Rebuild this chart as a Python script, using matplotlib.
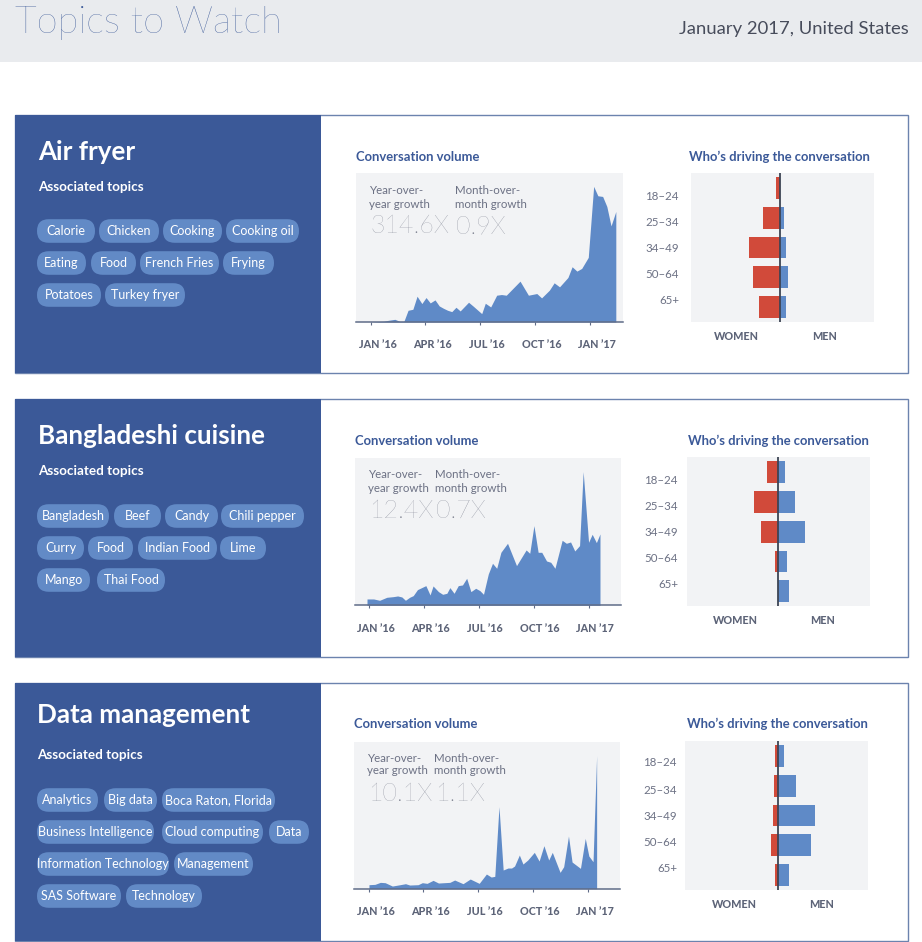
"""Topics to Watch: three topic cards with volume and age/gender charts."""

import matplotlib

matplotlib.use("Agg")
from matplotlib import pyplot as plt
from matplotlib.patches import FancyBboxPatch, Rectangle
from matplotlib.transforms import ScaledTranslation

NAVY = "#3B5998"
PILL = "#628AC6"
AREA = "#5F8AC7"
RED = "#D14A3A"
PANEL = "#F2F3F5"
HEADER = "#E9EBEE"
GREY = "#6C7184"
TICK_GREY = "#5D6478"
FONT = "Lato"

month_days = [0, 91, 182, 274, 366]
month_labels = ["JAN \u201916", "APR \u201916", "JUL \u201916", "OCT \u201916", "JAN \u201917"]
age_groups = ["18\u201324", "25\u201334", "34\u201349", "50\u201364", "65+"]

titles = ["Air fryer", "Bangladeshi cuisine", "Data management"]
yoy_growth = ["314.6X", "12.4X", "10.1X"]
mom_growth = ["0.9X", "0.7X", "1.1X"]

fryer_topics = [["Calorie", "Chicken", "Cooking", "Cooking oil"],
                ["Eating", "Food", "French Fries", "Frying"],
                ["Potatoes", "Turkey fryer"]]
bangla_topics = [["Bangladesh", "Beef", "Candy", "Chili pepper"],
                 ["Curry", "Food", "Indian Food", "Lime"],
                 ["Mango", "Thai Food"]]
data_topics = [["Analytics", "Big data", "Boca Raton, Florida"],
               ["Business Intelligence", "Cloud computing", "Data"],
               ["Information Technology", "Management"],
               ["SAS Software", "Technology"]]

fryer_days = [0, 7, 21, 29, 40, 48, 55, 62, 70, 77, 85, 92, 99, 107, 114, 121, 128, 135, 142, 149,
              163, 171, 185, 191, 200, 210, 218, 226, 249, 263, 277, 285, 298, 306, 315, 329, 336,
              344, 352, 363, 372, 379, 387, 394, 401, 409]
fryer_volume = [0, 1, 2, 5, 8, 2, 2, 35, 38, 77, 55, 73, 57, 66, 48, 41, 35, 31, 44, 33,
                59, 47, 25, 56, 45, 80, 82, 80, 122, 80, 85, 72, 95, 117, 105, 133, 165,
                152, 160, 193, 405, 377, 375, 345, 287, 330]

bangla_days = [-4, 7, 17, 29, 40, 47, 54, 60, 67, 73, 80, 87, 94, 101, 106, 115, 122, 129, 134, 141,
               148, 155, 162, 169, 177, 184, 190, 198, 205, 212, 219, 230, 245, 261, 267, 274, 281,
               287, 295, 302, 309, 321, 328, 335, 342, 350, 356, 365, 371, 378, 384]
bangla_volume = [19, 19, 15, 24, 26, 28, 25, 15, 24, 29, 47, 53, 59, 31, 58, 41, 33, 36, 53, 36,
                 59, 61, 81, 41, 51, 44, 33, 94, 126, 111, 159, 186, 119, 166, 156, 239, 159,
                 159, 133, 129, 111, 195, 186, 190, 163, 179, 401, 189, 213, 188, 214]

data_days = [0, 10, 19, 27, 39, 52, 61, 68, 82, 89, 97, 107, 116, 135, 143, 157, 169, 184, 196, 204,
             210, 217, 224, 232, 238, 243, 251, 257, 265, 276, 284, 292, 300, 306, 319, 325, 333,
             339, 353, 361, 367, 374, 380]
data_volume = [12, 13, 19, 18, 8, 12, 15, 11, 12, 18, 16, 25, 17, 19, 26, 15, 29, 16, 44, 35,
               37, 246, 56, 62, 62, 68, 101, 74, 86, 109, 83, 129, 86, 109, 49, 66, 158,
               80, 61, 151, 98, 81, 399]

fryer_women = [13, 52, 94, 82, 64]
fryer_men = [0, 10, 17, 23, 17]
bangla_women = [34, 73, 52, 10, 0]
bangla_men = [20, 50, 80, 26, 32]
data_women = [8, 11, 14, 20, 8]
data_men = [19, 55, 112, 100, 34]

# pill left/right edges in pixels, one row per line of topics
fryer_pills = [[(37, 95), (99, 159), (163, 222), (226, 299)],
               [(37, 86), (91, 136), (140, 219), (223, 274)],
               [(37, 101), (105, 185)]]
bangla_pills = [[(37, 109), (114, 161), (165, 218), (221, 304)],
                [(37, 84), (88, 133), (138, 217), (220, 266)],
                [(37, 90), (97, 165)]]
data_pills = [[(37, 98), (104, 157), (162, 275)],
              [(37, 154), (162, 263), (269, 309)],
              [(37, 169), (174, 253)],
              [(37, 121), (126, 202)]]

# per card layout, all in pixels of the final image
cards = [
    dict(top=115, title_x=38, title_y=152, assoc_y=187, pill_y=231, head_y=157, vol_head_x=356,
         vol_box=(356, 173, 623, 322), vol_xlim=(-25, 421), vol_ymax=445, tick_dx=6.6, tick_y=337,
         growth_x=(369, 455), growth_y=(190, 204, 226),
         who_cx=779.5, bar_box=(691, 173.3, 874, 321.7), bar_xlim=(-268, 281),
         age_x=679, age_y=(196, 222, 248, 275, 301), sex_y=337, sex_x=(736.7, 824.3),
         days=fryer_days, volume=fryer_volume, women=fryer_women, men=fryer_men,
         topics=fryer_topics, pills=fryer_pills),
    dict(top=399, title_x=38, title_y=436, assoc_y=471, pill_y=516, head_y=441, vol_head_x=355,
         vol_box=(355, 458.3, 621, 605.3), vol_xlim=(-24, 419), vol_ymax=441, tick_dx=6.2, tick_y=620.5,
         growth_x=(368, 435), growth_y=(475, 488, 511),
         who_cx=778, bar_box=(687, 457.3, 870, 606), bar_xlim=(-274, 275),
         age_x=678, age_y=(480, 507, 533, 559, 585), sex_y=621, sex_x=(735.7, 823),
         days=bangla_days, volume=bangla_volume, women=bangla_women, men=bangla_men,
         topics=bangla_topics, pills=bangla_pills),
    dict(top=683, title_x=37, title_y=715, assoc_y=755, pill_y=800, head_y=724, vol_head_x=354,
         vol_box=(354, 741.7, 620, 888.7), vol_xlim=(-25, 419), vol_ymax=441, tick_dx=6.6, tick_y=903.5,
         growth_x=(367, 434), growth_y=(758, 771, 794),
         who_cx=777, bar_box=(685, 741, 868, 890), bar_xlim=(-278, 271),
         age_x=677, age_y=(763, 790, 816, 842, 869), sex_y=904.5, sex_x=(734.7, 822),
         days=data_days, volume=data_volume, women=data_women, men=data_men,
         topics=data_topics, pills=data_pills),
]

WIDTH, HEIGHT = 922, 942
PILL_HEIGHT = 23.6
PILL_STEP = 32
CARD_HEIGHT = 258


def px(size):
    """Font size in points for a size in pixels at dpi 100."""
    return size * 0.72


def add_axes_px(fig, box):
    """Add axes from a (left, top, right, bottom) pixel box."""
    x0, y0, x1, y1 = box
    return fig.add_axes([x0 / WIDTH, 1 - y1 / HEIGHT, (x1 - x0) / WIDTH, (y1 - y0) / HEIGHT])


def draw_volume(fig, page, card):
    """Area chart of conversation volume with the growth figures on top."""
    ax = add_axes_px(fig, card["vol_box"])
    ax.set_facecolor(PANEL)
    ax.fill_between(card["days"], card["volume"], 0, color=AREA, linewidth=0)
    ax.set_xlim(*card["vol_xlim"])
    ax.set_ylim(0, card["vol_ymax"])
    for side in ["top", "left", "right"]:
        ax.spines[side].set_visible(False)
    ax.spines["bottom"].set_color("#5F6C88")
    ax.spines["bottom"].set_linewidth(1.1)
    ax.set_yticks([])
    pad = card["tick_y"] - card["vol_box"][3] - 5
    ax.set_xticks(month_days, month_labels)
    ax.tick_params(axis="x", length=2.5, width=0.8, color="#5F6C88", pad=pad, labelcolor=TICK_GREY,
                   labelsize=px(10.8))
    shift = ScaledTranslation(card["tick_dx"] / 100, 0, fig.dpi_scale_trans)
    for label in ax.get_xticklabels():
        label.set_fontweight("black")
        label.set_transform(label.get_transform() + shift)

    x_yoy, x_mom = card["growth_x"]
    y1, y2, y3 = card["growth_y"]
    for x, lines, value in [(x_yoy, ("Year-over-", "year growth"), card["yoy"]),
                            (x_mom, ("Month-over-", "month growth"), card["mom"])]:
        ax.text(x, y1, lines[0], transform=page.transData, color=GREY, fontsize=px(11.5),
                va="center", ha="left")
        ax.text(x, y2, lines[1], transform=page.transData, color=GREY, fontsize=px(11.5),
                va="center", ha="left")
        ax.text(x + 1, y3, value, transform=page.transData, color="#7B7F8E", fontsize=px(25),
                va="center", ha="left", fontweight="light")


def draw_ages(fig, page, card):
    """Back to back bars of women and men per age group."""
    ax = add_axes_px(fig, card["bar_box"])
    ax.set_facecolor(PANEL)
    rows = range(len(age_groups))
    ax.barh(rows, [-w for w in card["women"]], height=0.73, color=RED)
    ax.barh(rows, card["men"], height=0.73, color=AREA)
    ax.axvline(0, color="#3D4454", linewidth=1.3)
    ax.set_xlim(*card["bar_xlim"])
    ax.set_ylim(4.49, -0.49)
    ax.set_xticks([])
    ax.set_yticks([])
    for spine in ax.spines.values():
        spine.set_visible(False)
    for group, y in zip(age_groups, card["age_y"]):
        page.text(card["age_x"], y, group, color=GREY, fontsize=px(11.5), ha="right", va="center")
    for word, x in zip(["WOMEN", "MEN"], card["sex_x"]):
        page.text(x, card["sex_y"], word, color=TICK_GREY, fontsize=px(10.8), fontweight="black",
                  ha="center", va="center")


def draw_card(fig, page, card):
    """One topic card: blue side with pills, then the two charts."""
    top = card["top"]
    page.add_patch(Rectangle((15, top), 893, CARD_HEIGHT, facecolor="white", edgecolor="#6C83AE",
                             linewidth=1))
    page.add_patch(Rectangle((15, top), 306, CARD_HEIGHT, facecolor=NAVY, edgecolor="none"))
    page.text(card["title_x"], card["title_y"], card["title"], color="white", fontsize=px(26),
              fontweight="bold", va="center", ha="left")
    page.text(card["title_x"], card["assoc_y"], "Associated topics", color="white", fontsize=px(13.5),
              fontweight="bold", va="center", ha="left")

    for row, (names, edges) in enumerate(zip(card["topics"], card["pills"])):
        y = card["pill_y"] + row * PILL_STEP
        for name, (x0, x1) in zip(names, edges):
            page.add_patch(FancyBboxPatch((x0, y - PILL_HEIGHT / 2), x1 - x0, PILL_HEIGHT,
                                          boxstyle=f"round,pad=0,rounding_size={PILL_HEIGHT / 2}",
                                          facecolor=PILL, edgecolor="none"))
            page.text((x0 + x1) / 2, y, name, color="white", fontsize=px(12.5), ha="center",
                      va="center")

    page.text(card["vol_head_x"], card["head_y"], "Conversation volume", color=NAVY, fontsize=px(13),
              fontweight="bold", va="center", ha="left")
    page.text(card["who_cx"], card["head_y"], "Who\u2019s driving the conversation", color=NAVY,
              fontsize=px(13), fontweight="bold", va="center", ha="center")
    draw_volume(fig, page, card)
    draw_ages(fig, page, card)


def main():
    plt.rcParams["font.family"] = [FONT, "DejaVu Sans"]
    fig = plt.figure(figsize=(WIDTH / 100, HEIGHT / 100), dpi=100, facecolor="white")
    page = fig.add_axes([0, 0, 1, 1])
    page.set_xlim(0, WIDTH)
    page.set_ylim(HEIGHT, 0)
    page.axis("off")

    page.add_patch(Rectangle((0, 0), WIDTH, 62, facecolor=HEADER, edgecolor="none"))
    page.text(15, 23, "Topics to Watch", color=NAVY, fontsize=px(38), fontweight="light",
              va="center", ha="left")
    page.text(909, 29, "January 2017, United States", color="#474C5B", fontsize=px(18.5),
              va="center", ha="right")

    for card, title, yoy, mom in zip(cards, titles, yoy_growth, mom_growth):
        card.update(title=title, yoy=yoy, mom=mom)
        draw_card(fig, page, card)

    fig.savefig("out.png", dpi=100)


if __name__ == "__main__":
    main()
